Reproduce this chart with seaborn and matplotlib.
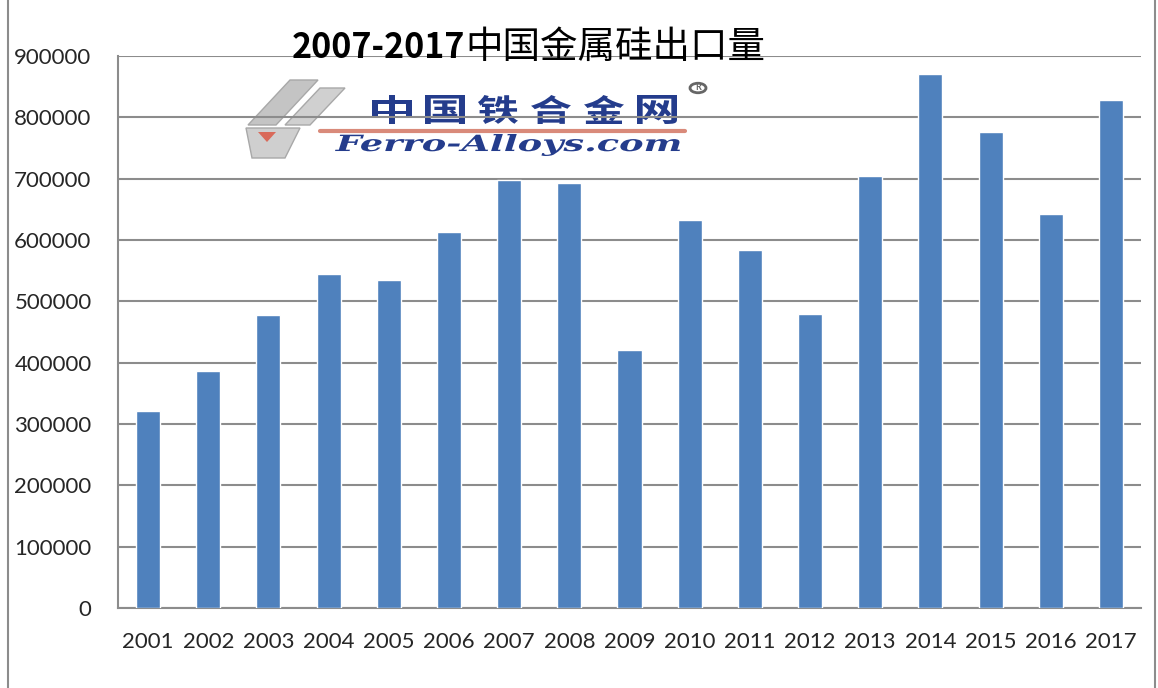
import numpy as np
import matplotlib
matplotlib.use("Agg")
import matplotlib.pyplot as plt
from matplotlib.lines import Line2D
from matplotlib.patches import Polygon, PathPatch, Circle
from matplotlib.textpath import TextPath
from matplotlib.font_manager import FontProperties
from matplotlib.transforms import Affine2D
import pandas as pd
import seaborn as sns

# data
years = ["2001", "2002", "2003", "2004", "2005", "2006", "2007", "2008", "2009",
         "2010", "2011", "2012", "2013", "2014", "2015", "2016", "2017"]
export_t = [321000, 386000, 478000, 545000, 535000, 613000, 698000, 693000, 421000,
            633000, 584000, 479000, 704000, 871000, 776000, 642000, 828000]
yticks = [0, 100000, 200000, 300000, 400000, 500000, 600000, 700000, 800000, 900000]
title_num = "2007-2017"
title_cn = "中国金属硅出口量"
logo_cn = "中国铁合金网"
logo_en = "Ferro-Alloys.com"

W, H = 1158, 688
df = pd.DataFrame({"year": years, "export": export_t})

sns.set_style("white")
plt.rcParams["font.family"] = ["Lato", "DejaVu Sans"]

fig = plt.figure(figsize=(W / 100, H / 100), dpi=100)
ax = fig.add_axes([118 / W, 1 - 608 / H, (1141 - 118) / W, (608 - 56) / H])
ax.set_facecolor("none")  # let the watermark show under the grid

sns.barplot(data=df, x="year", y="export", color="#4F81BD", saturation=1,
            width=0.4, ax=ax, zorder=3)
ax.set_xlim(-0.5, len(years) - 0.5)
ax.set_ylim(0, 900000)
ax.set_yticks(yticks)
ax.set_yticklabels([str(v) for v in yticks])
ax.set_xlabel("")
ax.set_ylabel("")

grey = "#8C8C8C"
ax.yaxis.grid(True, color=grey, linewidth=1.5, zorder=0)
ax.xaxis.grid(False)
for s in ["top", "right"]:
    ax.spines[s].set_visible(False)
for s in ["left", "bottom"]:
    ax.spines[s].set_color(grey)
    ax.spines[s].set_linewidth(1.5)

ax.set_xticks(np.arange(-0.5, len(years), 1.0), minor=True)
ax.tick_params(axis="x", which="major", length=0, pad=17, labelsize=16)
ax.tick_params(axis="x", which="minor", length=7, width=1.5, color=grey, direction="out")
ax.tick_params(axis="y", which="major", length=6, width=1.5, color=grey,
               direction="out", pad=13, labelsize=16)

# title: bold digits + regular chinese
cjk = ["Noto Sans CJK SC", "DejaVu Sans"]
fig.text(465 / W, 1 - 58 / H, title_num, ha="right", va="baseline", fontsize=24.5,
         fontweight="bold", family=cjk, color="black", zorder=5)
fig.text(465 / W, 1 - 58 / H, title_cn, ha="left", va="baseline", fontsize=27,
         family=cjk, color="black", zorder=5)


def fit_text(s, box, prop, color):
    # draw text path stretched into a pixel box (x0, y0, x1, y1), y measured from top
    tp = TextPath((0, 0), s, size=10, prop=prop)
    ext = tp.get_extents()
    x0, y0, x1, y1 = box
    sx = (x1 - x0) / ext.width
    sy = (y1 - y0) / ext.height
    tr = (Affine2D().translate(-ext.x0, -ext.y0).scale(sx / W, sy / H)
          .translate(x0 / W, 1 - y1 / H) + fig.transFigure)
    fig.patches.append(PathPatch(tp, transform=tr, facecolor=color, edgecolor="none",
                                 zorder=-1))


# watermark logo
def fpoly(pts, **kw):
    fig.patches.append(Polygon([[x / W, 1 - y / H] for x, y in pts], closed=True,
                               transform=fig.transFigure, zorder=-1, **kw))


fpoly([(248, 125), (290, 80), (318, 80), (276, 125)], facecolor="#C4C4C4",
      edgecolor="#A8A8A8", linewidth=1)
fpoly([(285, 125), (320, 88), (345, 88), (310, 125)], facecolor="#D0D0D0",
      edgecolor="#A8A8A8", linewidth=1)
fpoly([(246, 128), (300, 128), (285, 158), (252, 158)], facecolor="#CFCFCF",
      edgecolor="#A8A8A8", linewidth=1)
fpoly([(258, 132), (276, 132), (267, 142)], facecolor="#D96A5A", edgecolor="none")
fig.lines.append(Line2D([320 / W, 685 / W], [1 - 131 / H, 1 - 131 / H],
                        transform=fig.transFigure, color="#D98A7A", linewidth=3,
                        zorder=-1))

blue = "#243C8C"
cn_prop = FontProperties(family="Noto Sans CJK SC", weight="bold")
for i, ch in enumerate(logo_cn):
    x0 = 372 + i * 53
    fit_text(ch, (x0, 95, x0 + 40, 124), cn_prop, blue)
fit_text(logo_en, (335, 134, 680, 156),
         FontProperties(family="DejaVu Serif", weight="bold", style="italic"), blue)
fig.patches.append(Circle((698 / W, 1 - 88 / H), 8 / W, transform=fig.transFigure,
                          facecolor="none", edgecolor="#666666", linewidth=2, zorder=-1))
fig.text(698 / W, 1 - 88 / H, "R", ha="center", va="center", fontsize=6.5,
         fontweight="bold", color="#666666", zorder=-1)

# outer chart frame
for xf in [8 / W, 1155 / W]:
    fig.lines.append(Line2D([xf, xf], [0, 1], transform=fig.transFigure,
                            color="#8C8C8C", linewidth=1.5))

fig.savefig("out.png", dpi=100, facecolor="white")
